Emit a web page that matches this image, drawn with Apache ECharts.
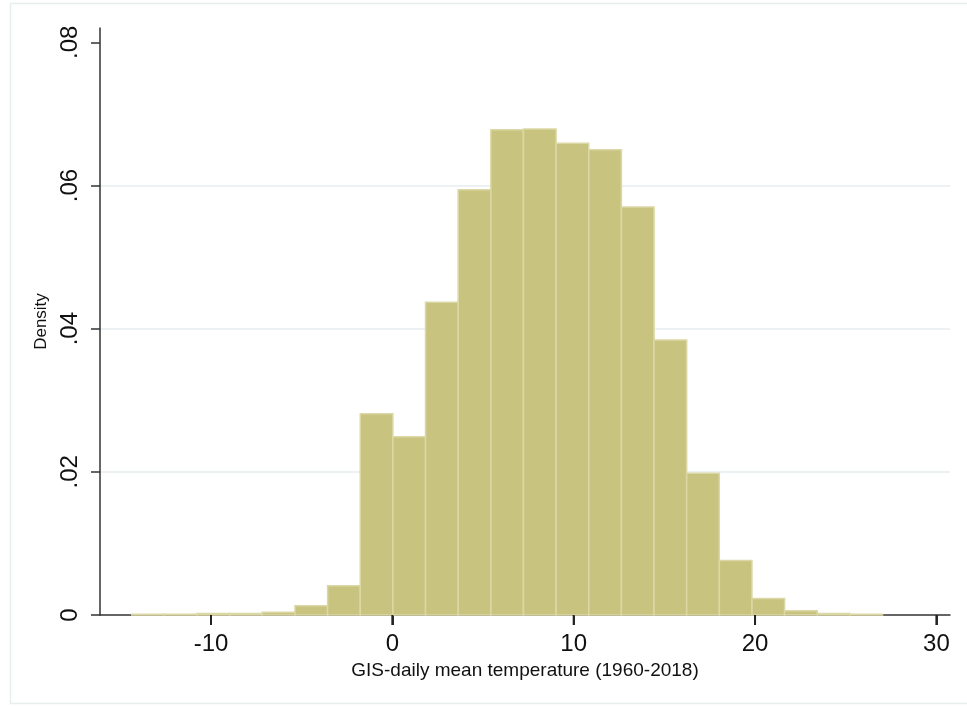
<!DOCTYPE html>
<html>
<head>
<meta charset="utf-8">
<script src="https://cdn.jsdelivr.net/npm/echarts@6/dist/echarts.min.js"></script>
<style>
html,body{margin:0;padding:0;background:#fff;}
#chart{width:967px;height:706px;}
</style>
</head>
<body>
<div id="chart"></div>
<script>
// Bin edges (temperature, °C)
const binEdges = [-14.37, -12.57, -10.77, -8.97, -7.17, -5.37, -3.57, -1.77, 0.03, 1.83, 3.63, 5.43, 7.23, 9.03, 10.83, 12.63, 14.43, 16.23, 18.03, 19.83, 21.63, 23.43, 25.23, 27.03];
// Density of each bin
const densities = [0.0001, 0.0001, 0.0002, 0.0002, 0.0004, 0.0013, 0.0041, 0.0281, 0.0249, 0.0437, 0.0594, 0.0678, 0.0679, 0.0659, 0.0650, 0.0570, 0.0384, 0.0198, 0.0076, 0.0023, 0.0006, 0.0002, 0.0001];
const xTicks = [-10, 0, 10, 20, 30];
const yTicks = [0, 0.02, 0.04, 0.06, 0.08];
const gridLines = [0.02, 0.04, 0.06];

const data = densities.map((d, i) => [binEdges[i], binEdges[i + 1], d]);

const chart = echarts.init(document.getElementById('chart'), null, {renderer: 'canvas'});
const font = 'Liberation Sans, Arial, sans-serif';
chart.setOption({
  animation: false,
  backgroundColor: '#fff',
  graphic: [{
    type: 'rect', z: -10,
    shape: {x: 10.5, y: 3.5, width: 958, height: 700},
    style: {fill: 'none', stroke: '#e6eef0', lineWidth: 1.5}
  }],
  grid: {left: 100, right: 17, top: 28, bottom: 91},
  xAxis: {
    type: 'value', min: -16.12, max: 30.75,
    name: 'GIS-daily mean temperature (1960-2018)',
    nameLocation: 'middle', nameGap: 46,
    nameTextStyle: {fontFamily: font, fontSize: 19, color: '#111'},
    axisLine: {show: true, onZero: false, lineStyle: {color: '#333', width: 1.5}},
    axisTick: {show: true, length: 10, customValues: xTicks, lineStyle: {color: '#333', width: 2}},
    axisLabel: {customValues: xTicks, fontFamily: font, fontSize: 24, color: '#111', margin: 17},
    splitLine: {show: false}
  },
  yAxis: {
    type: 'value', min: 0, max: 0.082,
    name: 'Density', nameLocation: 'middle', nameGap: 38,
    nameTextStyle: {fontFamily: font, fontSize: 17, color: '#111'},
    axisLine: {show: true, onZero: false, lineStyle: {color: '#333', width: 1.5}},
    axisTick: {show: true, inside: false, length: 9, customValues: yTicks, lineStyle: {color: '#333', width: 1.5}},
    axisLabel: {
      customValues: yTicks, rotate: 90, fontFamily: font, fontSize: 24, color: '#111', margin: 18,
      formatter: v => v === 0 ? '0' : v.toFixed(2).replace(/^0/, '')
    },
    splitLine: {show: false}
  },
  series: [{
    type: 'custom',
    data: data,
    encode: {x: [0, 1], y: 2},
    renderItem: function (params, api) {
      const p0 = api.coord([api.value(0), api.value(2)]);
      const p1 = api.coord([api.value(1), 0]);
      return {
        type: 'rect',
        shape: {x: p0[0], y: p0[1], width: p1[0] - p0[0], height: p1[1] - p0[1]},
        style: {fill: '#c9c380', stroke: '#dcd8a6', lineWidth: 1.5}
      };
    },
    markLine: {
      silent: true, symbol: 'none', z: -1,
      label: {show: false},
      lineStyle: {color: '#e6eef1', width: 1.5, type: 'solid'},
      data: gridLines.map(v => ({yAxis: v}))
    }
  }, {
    // x-axis tick marks, positioned through the axis scale
    type: 'custom',
    clip: false,
    silent: true,
    z: 50,
    data: xTicks.map(v => [v, 0]),
    encode: {x: 0, y: 1},
    renderItem: function (params, api) {
      const p = api.coord([api.value(0), api.value(1)]);
      return {
        type: 'rect',
        shape: {x: p[0] - 1, y: p[1], width: 2, height: 10},
        style: {fill: '#222'}
      };
    }
  }]
});
</script>
</body>
</html>
